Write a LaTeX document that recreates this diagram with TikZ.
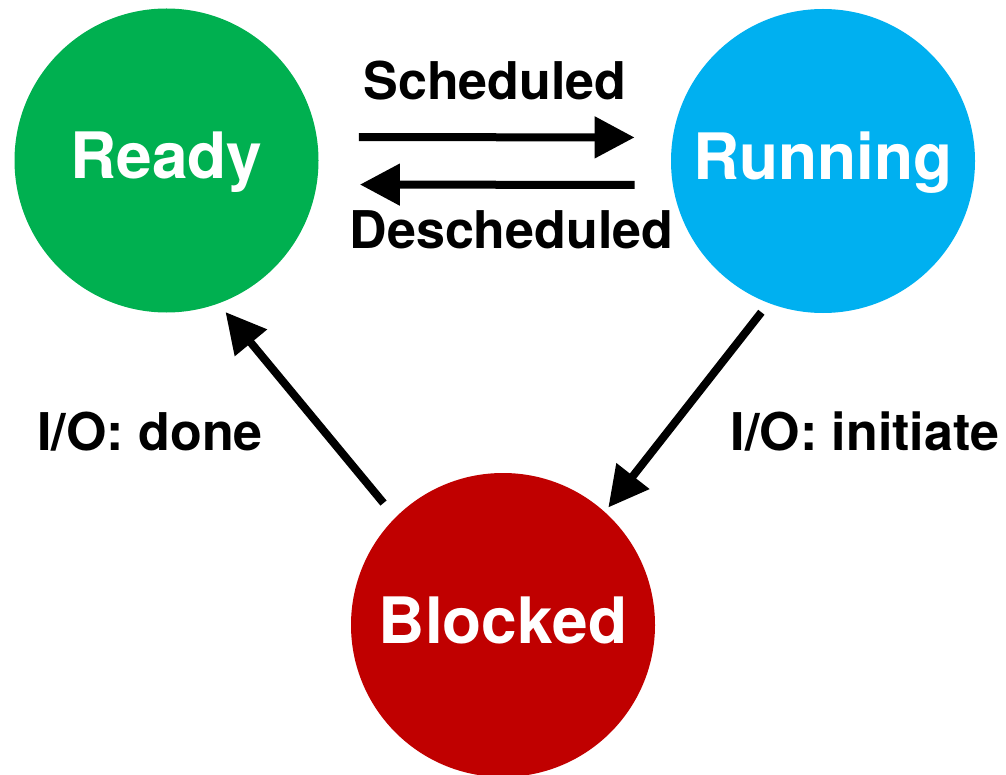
\documentclass[tikz,border=0pt]{standalone}
\usepackage{fontspec}
\setmainfont{TeX Gyre Heros}
\usetikzlibrary{arrows.meta}
\definecolor{readygreen}{RGB}{0,176,80}
\definecolor{runblue}{RGB}{0,176,240}
\definecolor{blockred}{RGB}{192,0,0}
\begin{document}
\begin{tikzpicture}[x=0.5pt,y=-0.5pt,
  state/.style={circle, minimum size=152pt, inner sep=0pt, text=white,
    font=\fontsize{32}{38}\selectfont\bfseries, text height=18.5pt, text depth=0pt},
  edgelabel/.style={anchor=base, font=\fontsize{26}{31}\selectfont\bfseries},
  arr/.style={line width=4pt, -{Triangle[length=20pt,width=20pt]}}]
\useasboundingbox (0,0) rectangle (1006,775);

% process states
\node[state, fill=readygreen] (ready)   at (166.5,160.5) {Ready};
\node[state, fill=runblue]    (running) at (823,161)     {Running};
\node[state, fill=blockred]   (blocked) at (503,625)     {Blocked};

% transitions
\draw[arr, shorten <=20pt, shorten >=18pt]
  ([yshift=11.75pt]ready.east) -- ([yshift=11.75pt]running.west);
\draw[arr, shorten <=18pt, shorten >=20.5pt]
  ([yshift=-12pt]running.west) -- ([yshift=-12pt]ready.east);
\draw[arr, shorten <=9.2pt, shorten >=5.4pt] (blocked.135) -- (ready.-70);
\draw[arr, shorten <=5.7pt, shorten >=2.7pt] (running.-111.5) -- (blocked.48.6);

% transition labels
\node[edgelabel] (lsched)   at (495,100)   {Scheduled};
\node[edgelabel] (ldesched) at (511.5,249) {Descheduled};
\node[edgelabel] (ldone)    at (150,450)   {I/O: done};
\node[edgelabel] (linit)    at (865,450)   {I/O: initiate};
\end{tikzpicture}
\end{document}
